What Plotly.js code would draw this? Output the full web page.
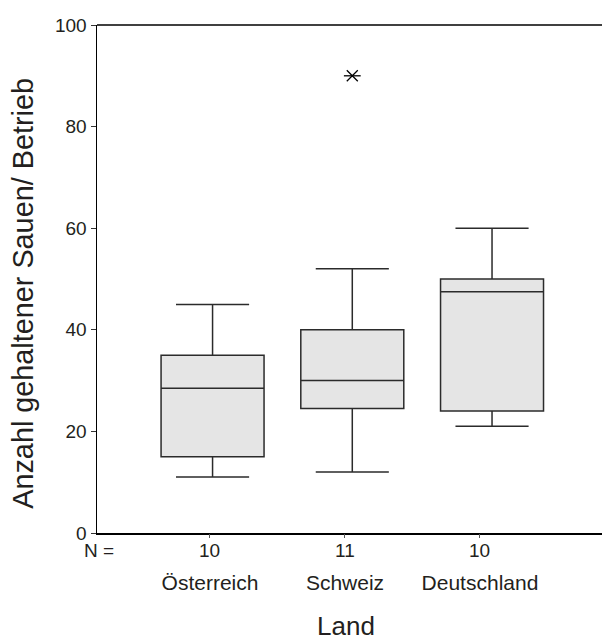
<!DOCTYPE html>
<html>
<head>
<meta charset="utf-8">
<script src="https://cdn.plot.ly/plotly-3.0.1.min.js"></script>
<style>html,body{margin:0;padding:0;background:#fff;}#chart{width:602px;height:643px;}</style>
</head>
<body>
<div id="chart"></div>
<script>
// Data
const categories = ["Österreich", "Schweiz", "Deutschland"];
const counts = [10, 11, 10];
const lowerWhisker = [11, 12, 21];
const q1 = [15, 24.5, 24];
const median = [28.5, 30, 47.5];
const q3 = [35, 40, 50];
const upperWhisker = [45, 52, 60];
const outlierCategory = ["Schweiz"];
const outlierValue = [90];
const yTicks = [0, 20, 40, 60, 80, 100];
const xTitle = "Land";
const yTitle = "Anzahl gehaltener Sauen/ Betrieb";

const FONT = "Liberation Sans, Arial, Helvetica, sans-serif";
const TXT = "#231f20";

const traces = [
  {
    type: "box",
    x: categories,
    lowerfence: lowerWhisker,
    q1: q1,
    median: median,
    q3: q3,
    upperfence: upperWhisker,
    boxpoints: false,
    width: 0.737,
    whiskerwidth: 0.71,
    fillcolor: "#e5e5e5",
    line: {color: "#2b2b2b", width: 1.5},
    hoverinfo: "skip",
    showlegend: false,
    xaxis: "x",
    yaxis: "y"
  },
  // outlier drawn as SPSS-style six-armed star: an x plus a horizontal bar
  {
    type: "scatter",
    mode: "markers",
    x: outlierCategory,
    y: outlierValue,
    marker: {symbol: "x-thin-open", size: 11, color: "#000", line: {color: "#000", width: 1.3}},
    showlegend: false,
    hoverinfo: "skip",
    xaxis: "x",
    yaxis: "y"
  },
  {
    type: "scatter",
    mode: "markers",
    x: outlierCategory,
    y: outlierValue,
    marker: {symbol: "line-ew-open", size: 12, color: "#000", line: {color: "#000", width: 1.3}},
    showlegend: false,
    hoverinfo: "skip",
    xaxis: "x",
    yaxis: "y"
  }
];

const annotations = [
  {xref: "paper", yref: "paper", x: 0.004, y: -0.0338, xanchor: "center", yanchor: "middle",
   text: "N =", showarrow: false, font: {family: FONT, size: 19, color: TXT}},
  {xref: "paper", yref: "paper", x: 0.493, y: -0.1839, xanchor: "center", yanchor: "middle",
   text: xTitle, showarrow: false, font: {family: FONT, size: 26, color: TXT}},
  {xref: "paper", yref: "paper", x: -0.1465, y: 0.471, xanchor: "center", yanchor: "middle",
   textangle: -90, text: yTitle, showarrow: false, font: {family: FONT, size: 28.8, color: TXT}}
];
counts.forEach((n, i) => {
  annotations.push({xref: "x2", yref: "paper", x: i, y: -0.0338, xanchor: "center", yanchor: "middle",
    text: String(n), showarrow: false, font: {family: FONT, size: 19, color: TXT}});
});

const layout = {
  width: 602,
  height: 643,
  margin: {l: 97, r: 0, t: 25, b: 109.5},
  paper_bgcolor: "#fff",
  plot_bgcolor: "#fff",
  font: {family: FONT, color: TXT},
  showlegend: false,
  xaxis: {
    type: "category",
    categoryarray: categories,
    range: [-0.827, 2.787],
    showticklabels: false,
    ticks: "",
    showgrid: false,
    zeroline: false,
    showline: true,
    linecolor: "#000",
    linewidth: 1.5,
    fixedrange: true
  },
  xaxis2: {
    overlaying: "x",
    anchor: "y",
    side: "bottom",
    range: [-0.837, 2.904],
    tickvals: [0, 1, 2],
    ticktext: categories,
    ticks: "outside",
    ticklen: 4,
    tickcolor: "#555",
    tickfont: {family: FONT, size: 21, color: TXT},
    ticklabelstandoff: 27,
    showgrid: false,
    zeroline: false,
    showline: false,
    fixedrange: true
  },
  yaxis: {
    range: [0, 100],
    tickvals: yTicks,
    ticks: "outside",
    ticklen: 5,
    tickcolor: "#333",
    tickfont: {family: FONT, size: 19, color: TXT},
    showgrid: false,
    zeroline: false,
    showline: true,
    linecolor: "#000",
    linewidth: 1.5,
    fixedrange: true
  },
  shapes: [
    {type: "line", xref: "paper", yref: "paper", x0: 0, x1: 1, y0: 1, y1: 1, line: {color: "#000", width: 1.5}}
  ],
  annotations: annotations
};

Plotly.newPlot("chart", traces, layout, {displayModeBar: false, staticPlot: true});
</script>
</body>
</html>
